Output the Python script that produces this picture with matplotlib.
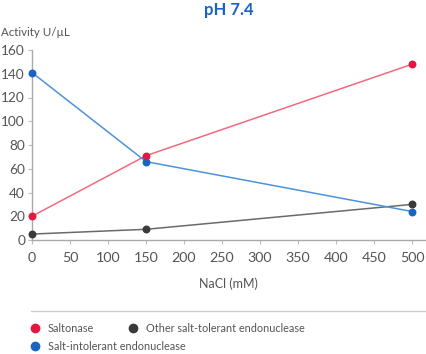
import matplotlib
matplotlib.use("Agg")
import matplotlib.pyplot as plt
from matplotlib.lines import Line2D

plt.rcParams['font.family'] = ['Lato', 'DejaVu Sans']

nacl = [0, 150, 500]
saltonase = [20, 71, 148]
other_tolerant = [5, 9, 30]
salt_intolerant = [141, 66, 24]
series_names = ["Saltonase", "Other salt-tolerant endonuclease", "Salt-intolerant endonuclease"]
xticks = list(range(0, 501, 50))
yticks = list(range(0, 161, 20))

W, H = 426, 354
fig = plt.figure(figsize=(W/100, H/100), dpi=100)
ax = fig.add_axes([32/W, 1-240/H, (425-32)/W, (240-50)/H])

red_pt, red_ln = '#e5173f', '#f06a80'
gray_pt, gray_ln = '#3a3a3a', '#6a6a6a'
blue_pt, blue_ln = '#1a64c0', '#4e92da'
txt = '#555555'

ax.plot(nacl, other_tolerant, color=gray_ln, lw=1.1, zorder=2, clip_on=False)
ax.plot(nacl, saltonase, color=red_ln, lw=1.1, zorder=2, clip_on=False)
ax.plot(nacl, salt_intolerant, color=blue_ln, lw=1.1, zorder=2, clip_on=False)
ax.scatter(nacl, other_tolerant, color=gray_pt, s=22, zorder=3, clip_on=False)
ax.scatter(nacl, saltonase, color=red_pt, s=22, zorder=3, clip_on=False)
ax.scatter(nacl, salt_intolerant, color=blue_pt, s=22, zorder=3, clip_on=False)

ax.set_xlim(0, 517)
ax.set_ylim(0, 160)
ax.set_xticks(xticks)
ax.set_yticks(yticks)
for s in ['top', 'right']:
    ax.spines[s].set_visible(False)
for s in ['left', 'bottom']:
    ax.spines[s].set_color('#aaaaaa')
    ax.spines[s].set_linewidth(1)
ax.tick_params(colors='#bbbbbb', labelcolor=txt, length=3, width=0.8)
ax.tick_params(axis='x', pad=6, labelsize=10.3)
ax.tick_params(axis='y', pad=2, labelsize=9.8)

ax.set_xlabel('NaCl (mM)', fontsize=9, color=txt, labelpad=9)
fig.text(1/W, 1-33/H, 'Activity U/µL', fontsize=8.3, color=txt, va='center', ha='left')
fig.text(229/W, 1-10/H, 'pH 7.4', fontsize=12, color='#1a64c0', fontweight='bold', va='center', ha='center')

fig.add_artist(Line2D([31/W, 425/W], [1-311/H, 1-311/H], color='#cccccc', lw=1))

legend_items = [(35, 328, red_pt, series_names[0]), (133, 328, gray_pt, series_names[1]), (35, 346, blue_pt, series_names[2])]
for x, y, c, name in legend_items:
    fig.add_artist(Line2D([x/W], [1-y/H], marker='o', color=c, markersize=6, linestyle='none'))
    fig.text((x+13)/W, 1-y/H, name, fontsize=7.8, color=txt, va='center', ha='left')

fig.savefig('out.png', dpi=100)
